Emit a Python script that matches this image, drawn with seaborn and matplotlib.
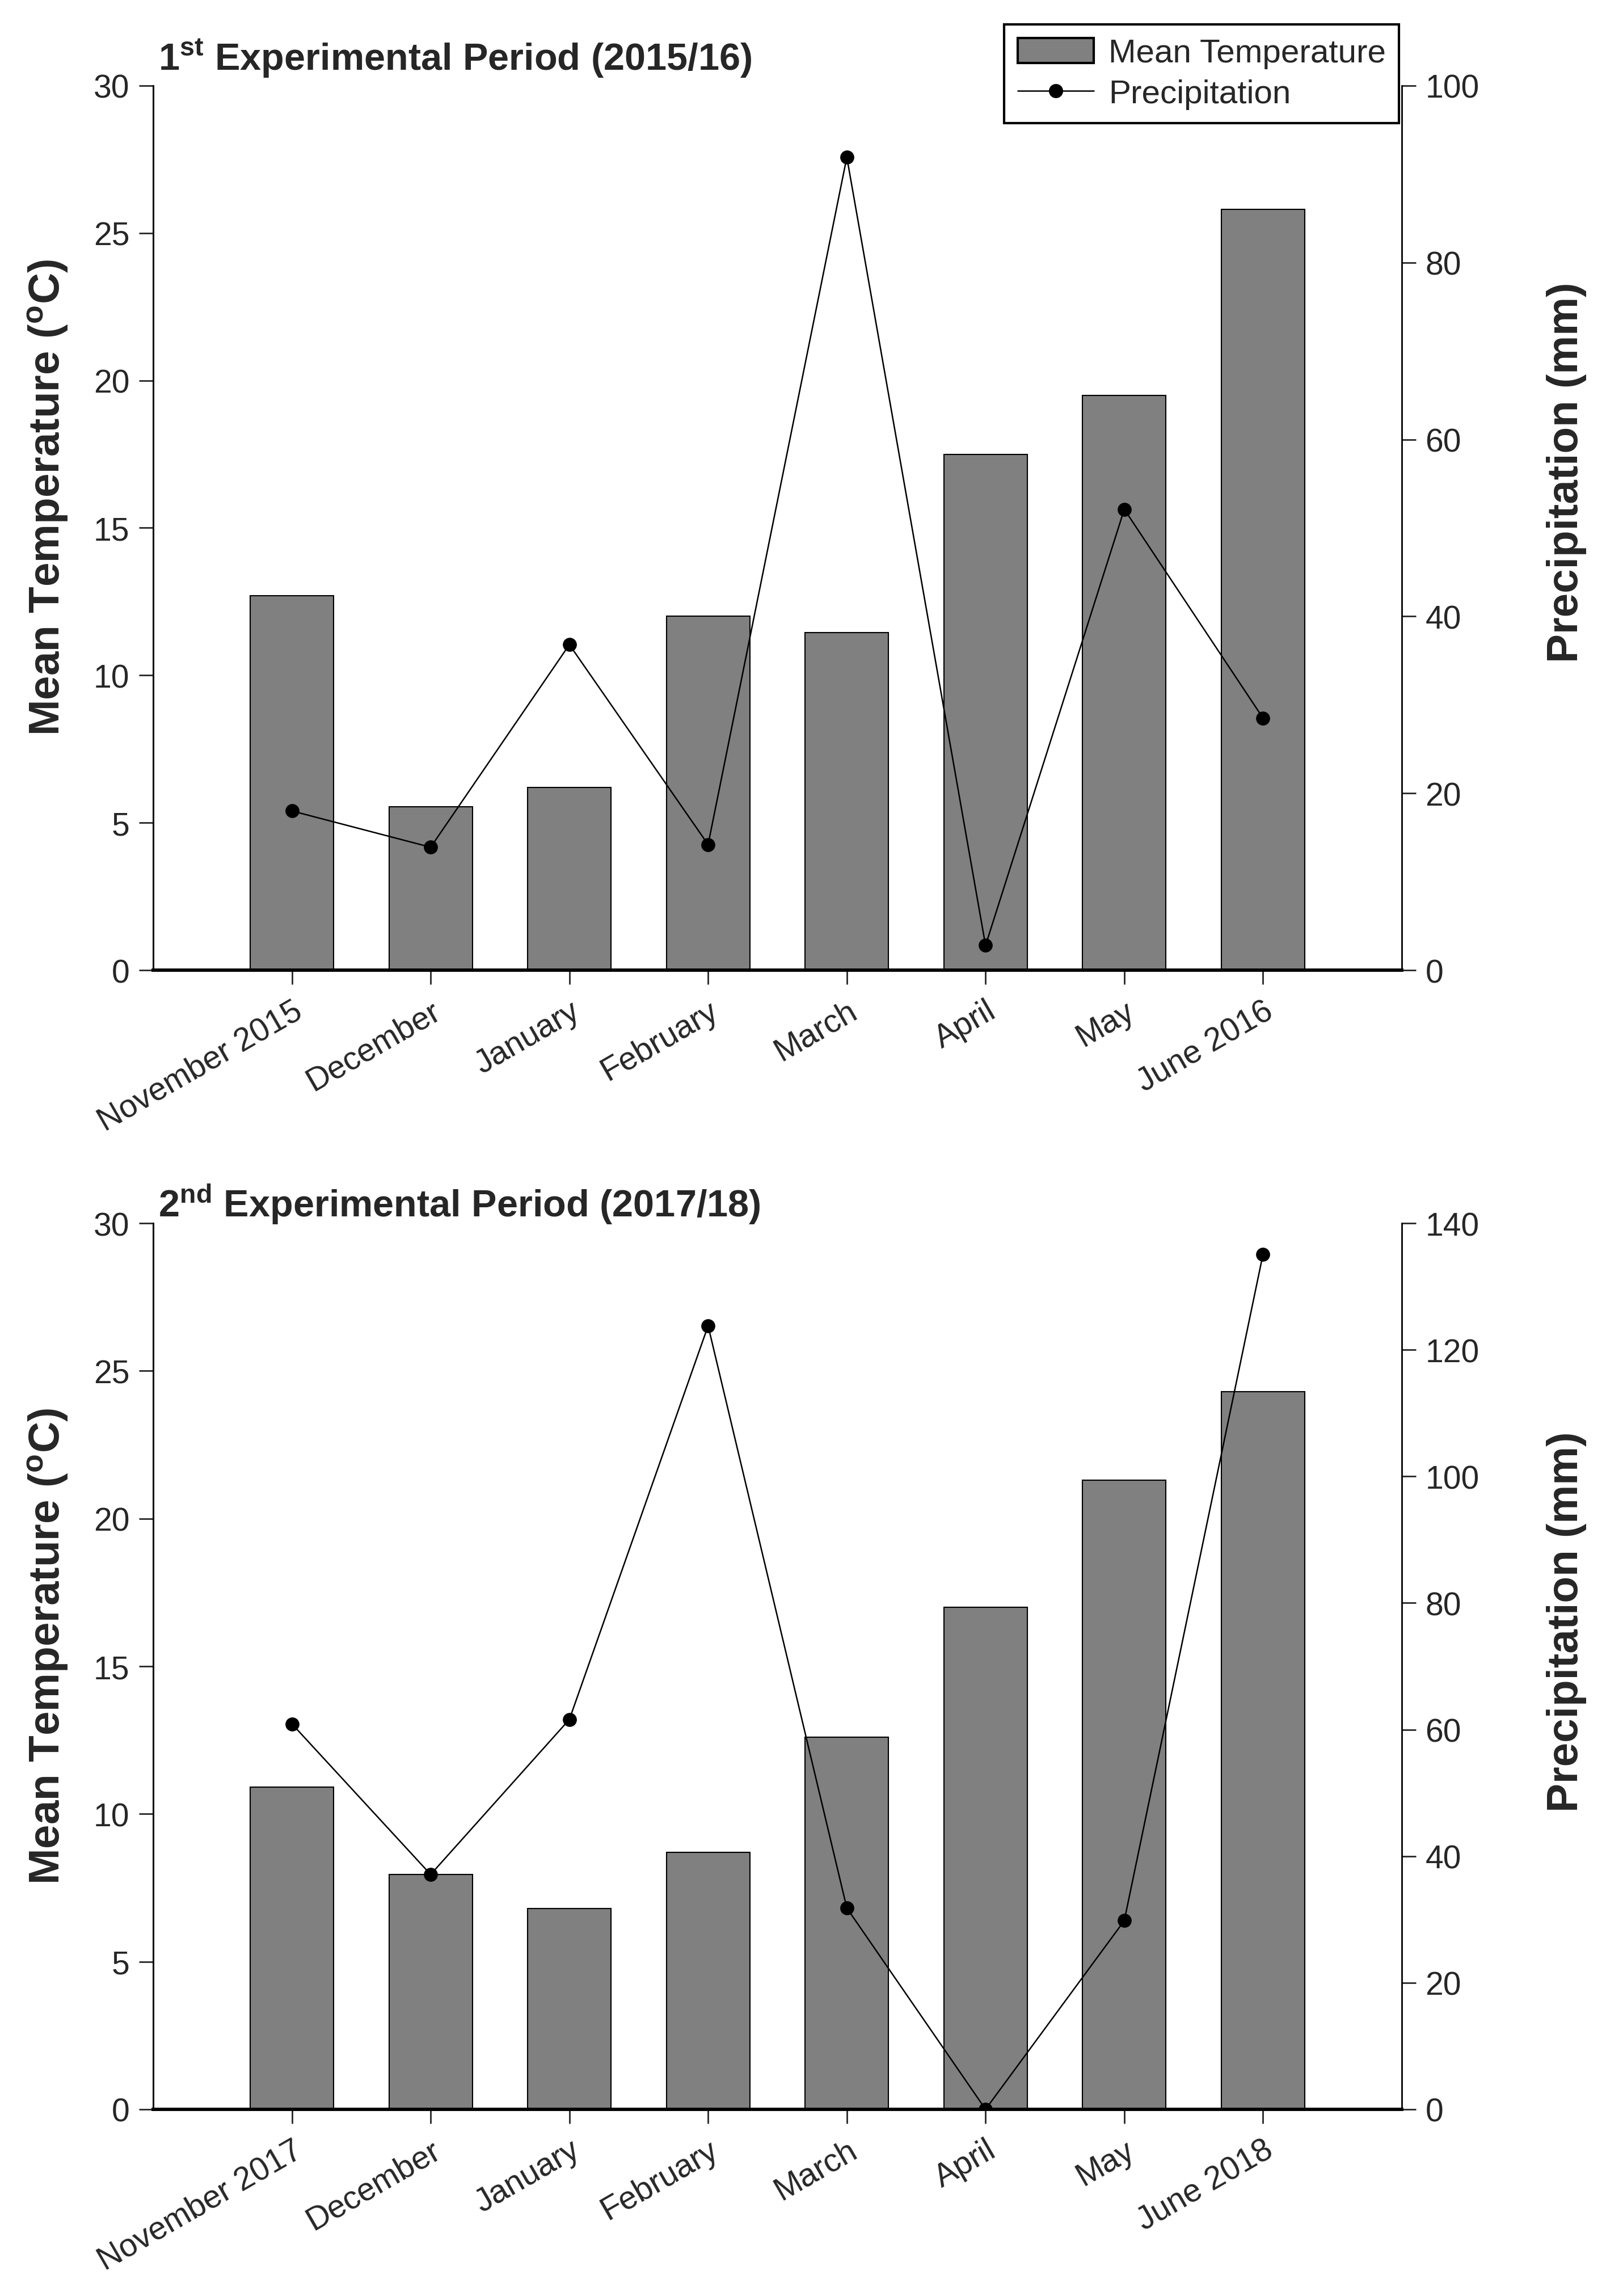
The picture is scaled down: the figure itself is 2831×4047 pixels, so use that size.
import numpy as np
import pandas as pd
import seaborn as sns
import matplotlib.pyplot as plt
from matplotlib.patches import Patch
from matplotlib.lines import Line2D

# Данные
months_1 = ['November 2015', 'December', 'January', 'February', 'March', 'April', 'May', 'June 2016']
temp_1 = [12.7, 5.55, 6.2, 12.0, 11.45, 17.5, 19.5, 25.8]
precip_1 = [18.0, 13.9, 36.8, 14.2, 91.9, 2.8, 52.1, 28.5]

months_2 = ['November 2017', 'December', 'January', 'February', 'March', 'April', 'May', 'June 2018']
temp_2 = [10.9, 7.95, 6.8, 8.7, 12.6, 17.0, 21.3, 24.3]
precip_2 = [60.9, 37.1, 61.6, 123.8, 31.8, 0.0, 29.8, 135.1]

sns.set_style('white')
plt.rcParams['font.family'] = ['Liberation Sans', 'DejaVu Sans']
plt.rcParams['mathtext.fontset'] = 'custom'
plt.rcParams['mathtext.rm'] = 'Liberation Sans'
plt.rcParams['mathtext.bf'] = 'Liberation Sans:bold'

TICK_FS = 41
LEGEND_FS = 42
LABEL_FS = 55
TITLE_FS = 48

fig = plt.figure(figsize=(28.31, 40.48), dpi=100)


def draw_panel(rect, months, temp, precip, title, title_y, p_max, p_step,
               ylab_left, ylab_right, legend=False):
    ax = fig.add_axes(rect)
    df = pd.DataFrame({'month': months, 'temp': temp, 'precip': precip})
    sns.barplot(data=df, x='month', y='temp', order=months, color='#808080',
                saturation=1, width=0.6, edgecolor='black', linewidth=1.5, ax=ax)
    ax.set_xlim(-1, len(months))
    ax.set_ylim(0, 30)
    ax.set_yticks(np.arange(0, 31, 5))
    ax.set_xlabel('')
    ax.set_ylabel(r'Mean Temperature ($\mathbf{^{o}}$C)', fontsize=LABEL_FS,
                  fontweight='bold')
    ax.yaxis.set_label_coords(-0.067, ylab_left)
    ax.set_xticks(range(len(months)))
    ax.set_xticklabels(months, rotation=30, ha='right', rotation_mode='anchor')
    ax.tick_params(axis='both', which='major', labelsize=TICK_FS, direction='out',
                   length=18, width=2, left=True, bottom=True, pad=12)
    ax.tick_params(axis='x', pad=14)

    ax2 = ax.twinx()
    sns.lineplot(x=np.arange(len(months)), y=precip, ax=ax2, color='black',
                 marker='o', markersize=17, linewidth=1.8, markeredgecolor='black')
    ax2.set_ylim(0, p_max)
    ax2.set_yticks(np.arange(0, p_max + 1, p_step))
    ax2.set_xlim(-1, len(months))
    ax2.set_ylabel('Precipitation (mm)', fontsize=LABEL_FS, fontweight='bold')
    ax2.yaxis.set_label_coords(1.116, ylab_right)
    ax2.tick_params(axis='y', labelsize=TICK_FS, direction='out', length=18,
                    width=2, right=True, pad=12)

    for a in (ax, ax2):
        a.spines['top'].set_visible(False)
        for s in ('left', 'right'):
            a.spines[s].set_linewidth(2)
            a.spines[s].set_color('black')
        a.spines['bottom'].set_linewidth(4)
        a.spines['bottom'].set_color('black')
    ax.spines['right'].set_visible(False)

    ax.text(0.004, title_y, title, transform=ax.transAxes, fontsize=TITLE_FS,
            fontweight='bold', ha='left', va='baseline')

    if legend:
        handles = [Patch(facecolor='#808080', edgecolor='black', linewidth=3),
                   Line2D([0], [0], color='black', marker='o', markersize=17,
                          linewidth=1.8)]
        leg = ax2.legend(handles, ['Mean Temperature', 'Precipitation'],
                         loc='upper right', bbox_to_anchor=(0.998, 1.069),
                         fontsize=LEGEND_FS, frameon=True, fancybox=False,
                         edgecolor='black', framealpha=1, borderpad=0.4,
                         borderaxespad=0, handlelength=2.3, handleheight=0.8,
                         handletextpad=0.45, labelspacing=0.3)
        leg.get_frame().set_linewidth(3)
    return ax, ax2


draw_panel([0.0954, 0.5773, 0.7774, 0.3852], months_1, temp_1, precip_1,
           r'$\mathbf{1^{st}}$ Experimental Period (2015/16)', 1.018, 100, 20,
           0.535, 0.563, legend=True)
draw_panel([0.0954, 0.0813, 0.7774, 0.3858], months_2, temp_2, precip_2,
           r'$\mathbf{2^{nd}}$ Experimental Period (2017/18)', 1.008, 140, 20,
           0.523, 0.551)

fig.savefig('out.png', dpi=100, facecolor='white')
